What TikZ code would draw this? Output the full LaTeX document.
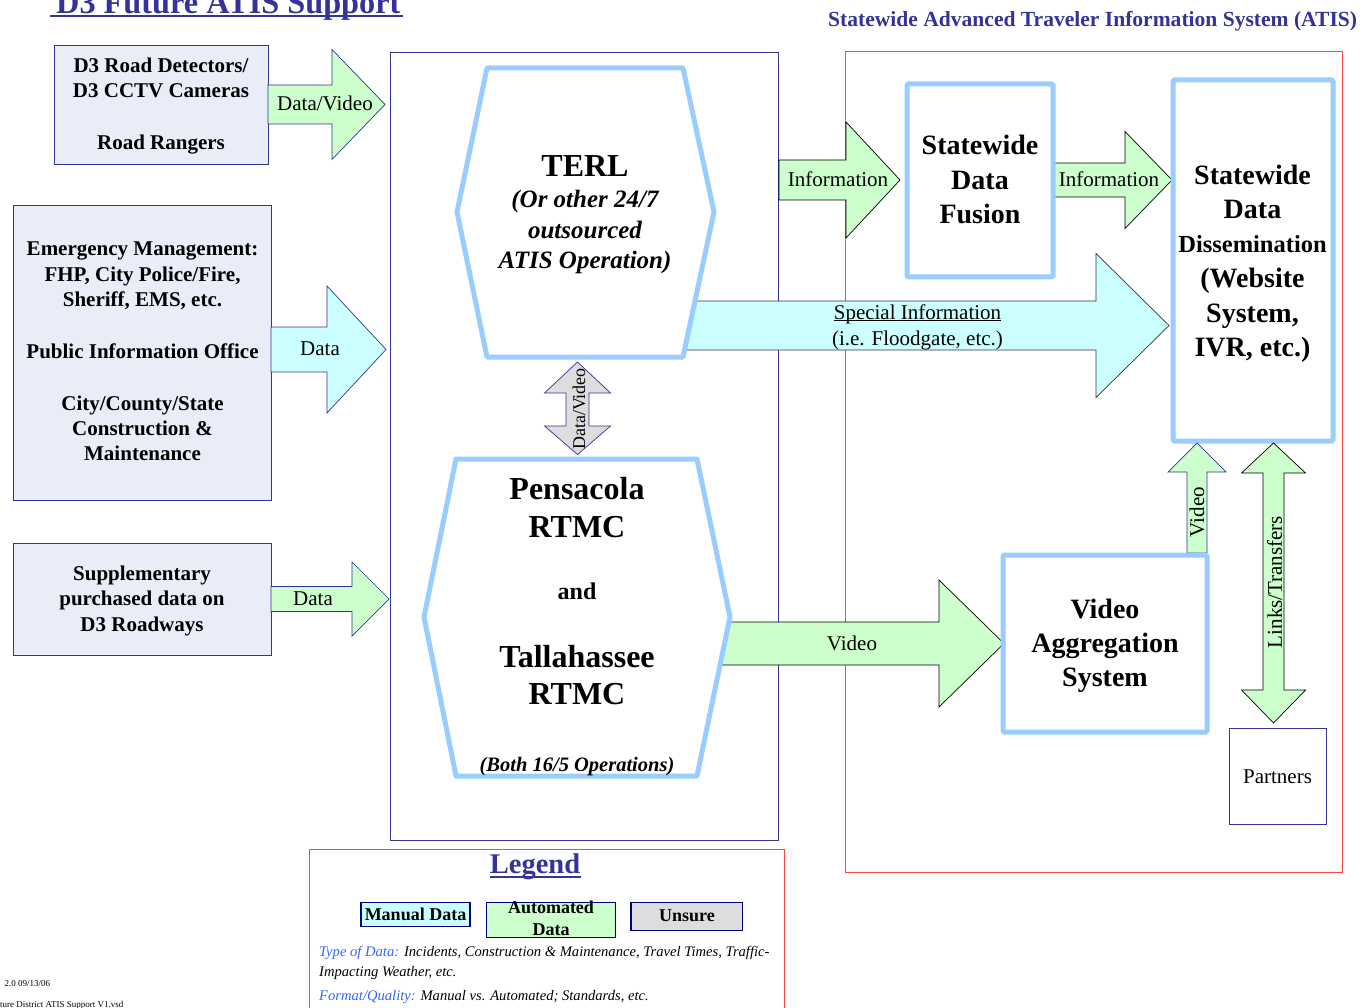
\documentclass[tikz,border=0pt]{standalone}
\usepackage{fontspec}
\setmainfont{Liberation Serif}
\definecolor{navy}{HTML}{333399}
\definecolor{hexblue}{HTML}{99CCFF}
\definecolor{redline}{HTML}{FF4444}
\definecolor{autogreen}{HTML}{CCFFCC}
\definecolor{manualcyan}{HTML}{CCFFFF}
\definecolor{unsuregray}{HTML}{DDDDDD}
\definecolor{srcfill}{HTML}{E8EDF8}
\definecolor{legblue}{HTML}{3366FF}
\definecolor{legnavy}{HTML}{000080}
\newcommand\fs[2]{\fontsize{#1}{#2}\selectfont}
\newcommand\ctext[1]{\vtop{\halign{\hfil##\hfil\cr#1\crcr}}}
\newcommand\ltext[1]{\vtop{\halign{##\hfil\cr#1\crcr}}}
\newcommand\ulx[3]{\setbox0\hbox{#3}\rlap{\rule[-#2]{\wd0}{#1}}\box0}
% horizontal block arrow: style, x0, xhead, xtip, ycenter, shaft half, head half
\newcommand\harrow[7]{\filldraw[#1] (#2,#5-#6) -- (#3,#5-#6) -- (#3,#5-#7) -- (#4,#5) -- (#3,#5+#7) -- (#3,#5+#6) -- (#2,#5+#6) -- cycle;}
% vertical up arrow: style, xc, ybottom, yheadbase, ytip, shaft half, head half
\newcommand\varrowup[7]{\filldraw[#1] (#2-#6,#3) -- (#2-#6,#4) -- (#2-#7,#4) -- (#2,#5) -- (#2+#7,#4) -- (#2+#6,#4) -- (#2+#6,#3) -- cycle;}
% vertical double arrow: style, xc, ytoptip, ytopbase, ybotbase, ybottip, shaft half, head half
\newcommand\vdouble[8]{\filldraw[#1] (#2,#3) -- (#2+#8,#4) -- (#2+#7,#4) -- (#2+#7,#5) -- (#2+#8,#5) -- (#2,#6) -- (#2-#8,#5) -- (#2-#7,#5) -- (#2-#7,#4) -- (#2-#8,#4) -- cycle;}
\tikzset{
  srcbox/.style={draw=navy, fill=srcfill, line width=0.8pt, inner sep=0, outer sep=0, anchor=north west},
  bluebox/.style={draw=hexblue, fill=white, line width=5pt, rounded corners=1.5pt, inner sep=0, outer sep=0, anchor=north west},
  hexline/.style={draw=hexblue, fill=white, line width=5pt, line join=round},
  txt/.style={inner sep=0, anchor=base, text=black},
  greenarrow/.style={fill=autogreen, draw=black, line width=0.7pt},
  greenarrowN/.style={fill=autogreen, draw=navy, line width=0.7pt},
  cyanarrow/.style={fill=manualcyan, draw=black!80, line width=0.7pt},
  cyanarrowN/.style={fill=manualcyan, draw=navy, line width=0.7pt},
  grayarrow/.style={fill=unsuregray, draw=navy, line width=0.7pt},
  legbox/.style={draw=legnavy, line width=1.2pt, inner sep=0, outer sep=0, anchor=north west},
}
\begin{document}
\begin{tikzpicture}[x=1pt,y=-1pt]
\useasboundingbox (0,0) rectangle (1362,1008);
\fill[white] (0,0) rectangle (1362,1008);

% titles
\node[txt, anchor=base west, text=navy, font=\fs{32.3}{38}\bfseries] (title) at (56,13.5) {D3 Future ATIS Support};
\fill[navy] (49.5,15) rectangle (403,17.3);
\node[txt, anchor=base west, text=navy, font=\fs{21.55}{26}\bfseries] (atis) at (828,27) {Statewide Advanced Traveler Information System (ATIS)};

% frames
\draw[navy, line width=0.8pt] (390,52) rectangle (778,840);
\draw[redline, line width=1pt] (845,52) rectangle (1342,872);

% source boxes
\node[srcbox, minimum width=214pt, minimum height=119pt] (src1) at (54,45) {};
\node[txt, font=\fs{21}{24.5}\bfseries] (src1t) at (161,73) {\ctext{D3 Road Detectors/\cr D3 CCTV Cameras\cr\noalign{\vskip28pt}Road Rangers}};
\node[srcbox, minimum width=258pt, minimum height=295pt] (src2) at (13,205) {};
\node[txt, font=\fs{21}{25.5}\bfseries] (src2t) at (142.5,256) {\ctext{Emergency Management:\cr FHP, City Police/Fire,\cr Sheriff, EMS, etc.\cr\noalign{\vskip26pt}Public Information Office\cr\noalign{\vskip26pt}City/County/State\cr Construction \&\cr Maintenance}};
\node[srcbox, minimum width=258pt, minimum height=112pt] (src3) at (13,543) {};
\node[txt, font=\fs{21}{25.5}\bfseries] (src3t) at (142,580) {\ctext{Supplementary\cr purchased data on\cr D3 Roadways}};

% arrows from sources
\harrow{greenarrowN}{268}{332}{385}{104.5}{19.5}{55}
\node[txt, font=\fs{21}{25}] (a1t) at (325,111) {Data/Video};
\harrow{cyanarrowN}{271}{327}{386}{349.5}{22.5}{63.5}
\node[txt, font=\fs{21}{25}] (a2t) at (320,355) {Data};
\harrow{greenarrowN}{271}{352}{389}{599}{12.5}{37}
\node[txt, font=\fs{21}{25}] (a3t) at (313,605.5) {Data};

% right-side arrows (drawn before hexagons/boxes)
\harrow{cyanarrow}{684}{1096}{1169}{325.5}{24.5}{72}
\node[txt, font=\fs{21}{25}] (spec1) at (917.5,319.3) {\ulx{0.9pt}{1.8pt}{Special Information}};
\node[txt, font=\fs{21}{25}] (spec2) at (917.5,345) {(i.e. Floodgate, etc.)};
\harrow{greenarrow}{722}{939}{1004}{643.5}{21.5}{63.5}
\node[txt, font=\fs{21}{25}] (vidt) at (852,650) {Video};
\harrow{greenarrow}{779}{846}{900}{180}{20}{58}
\node[txt, font=\fs{21}{25}] (inf1) at (838,187) {Information};
\harrow{greenarrow}{1053}{1125}{1172}{180}{17}{48.5}
\node[txt, font=\fs{21}{25}] (inf2) at (1109,187) {Information};

% TERL hexagon
\draw[hexline] (487,68) -- (683,68) -- (714,212) -- (683,357) -- (487,357) -- (457,212) -- cycle;
\node[txt, font=\fs{32}{38}\bfseries] (terl) at (585,177) {TERL};
\node[txt, font=\fs{25}{30.5}\bfseries\itshape] (terlsub) at (585,208) {\ctext{(Or other 24/7\cr outsourced\cr ATIS Operation)}};

% Pensacola / Tallahassee hexagon
\draw[hexline] (456,459) -- (697,459) -- (730,617) -- (697,776) -- (456,776) -- (424,617) -- cycle;
\node[txt, font=\fs{32}{38}\bfseries] (pens) at (577,499) {\ctext{Pensacola\cr RTMC}};
\node[txt, font=\fs{24}{28}\bfseries] (and) at (577,599) {and};
\node[txt, font=\fs{32}{37}\bfseries] (tall) at (577,667) {\ctext{Tallahassee\cr RTMC}};
\node[txt, font=\fs{20.5}{24}\bfseries\itshape] (both) at (577,771) {(Both 16/5 Operations)};

% Data/Video double arrow
\vdouble{grayarrow}{577.5}{362}{393}{426}{454.5}{11.5}{33}
\node[inner sep=0, rotate=90, font=\fs{18}{22}] (dvt) at (579,409) {Data/Video};

% statewide boxes
\node[bluebox, minimum width=146pt, minimum height=193pt] (fusion) at (907,84) {};
\node[txt, font=\fs{28}{34.5}\bfseries] (fusiont) at (980,155) {\ctext{Statewide\cr Data\cr Fusion}};
\node[bluebox, minimum width=160pt, minimum height=361pt] (dissem) at (1173,80) {};
\node[txt, font=\fs{28}{34.2}\bfseries] (dissemt1) at (1252.5,184.5) {\ctext{Statewide\cr Data}};
\node[txt, font=\fs{24.5}{30}\bfseries] (dissemt2) at (1252.5,253) {Dissemination};
\node[txt, font=\fs{28}{34.5}\bfseries] (dissemt3) at (1252.5,287.5) {\ctext{(Website\cr System,\cr IVR, etc.)}};

% video up arrow and links/transfers
\varrowup{greenarrowN}{1197}{553}{472}{443}{10}{29}
\node[inner sep=0, rotate=90, font=\fs{21}{25}] (vupt) at (1197,512) {Video};
\vdouble{greenarrow}{1273.5}{443}{473}{690}{723}{10.5}{32}
\node[inner sep=0, rotate=90, font=\fs{21}{25}] (linkt) at (1274.5,582) {Links/Transfers};

\node[bluebox, minimum width=204pt, minimum height=177pt] (vas) at (1003,555) {};
\node[txt, font=\fs{28}{34}\bfseries] (vast) at (1105,618.5) {\ctext{Video\cr Aggregation\cr System}};

\node[draw=navy, line width=0.8pt, inner sep=0, outer sep=0, anchor=north west, minimum width=97pt, minimum height=96pt] (partners) at (1229,728) {};
\node[txt, font=\fs{21}{25}] (partnerst) at (1277.5,783) {Partners};

% legend
\draw[redline, line width=1pt] (309,849) -- (784,849) -- (784,1015) (309,849) -- (309,1015);
\node[txt, text=navy, font=\fs{28.5}{34}\bfseries] (legend) at (535,873.3) {Legend};
\fill[navy] (489.5,875.8) rectangle (580.5,878.2);
\node[legbox, fill=manualcyan, minimum width=109pt, minimum height=24pt] (lman) at (361,902.3) {};
\node[txt, font=\fs{18}{22}\bfseries] (lmant) at (415.5,920) {Manual Data};
\node[legbox, fill=autogreen, minimum width=129pt, minimum height=35pt] (lauto) at (486.7,902.3) {};
\node[txt, font=\fs{18}{21.7}\bfseries] (lautot) at (551,913.3) {\ctext{Automated\cr Data}};
\node[legbox, fill=unsuregray, minimum width=111.5pt, minimum height=28pt] (lunsure) at (631,902.3) {};
\node[txt, font=\fs{18}{22}\bfseries] (lunsuret) at (687,921.7) {Unsure};
\node[txt, anchor=base west, font=\fs{14.6}{20.7}\itshape] (ltype) at (319,956) {\ltext{\textcolor{legblue}{Type of Data:} Incidents, Construction \& Maintenance, Travel Times, Traffic-\cr Impacting Weather, etc.}};
\node[txt, anchor=base west, font=\fs{14.6}{20.7}\itshape] (lformat) at (319,1000) {\textcolor{legblue}{Format/Quality:} Manual vs. Automated; Standards, etc.};

% file info
\node[txt, anchor=base west, font=\fs{9}{11}] (ver) at (4.5,986.7) {2.0 09/13/06};
\node[txt, anchor=base west, font=\fs{9}{11}] (fname) at (0,1007) {ture District ATIS Support V1.vsd};
\end{tikzpicture}
\end{document}
